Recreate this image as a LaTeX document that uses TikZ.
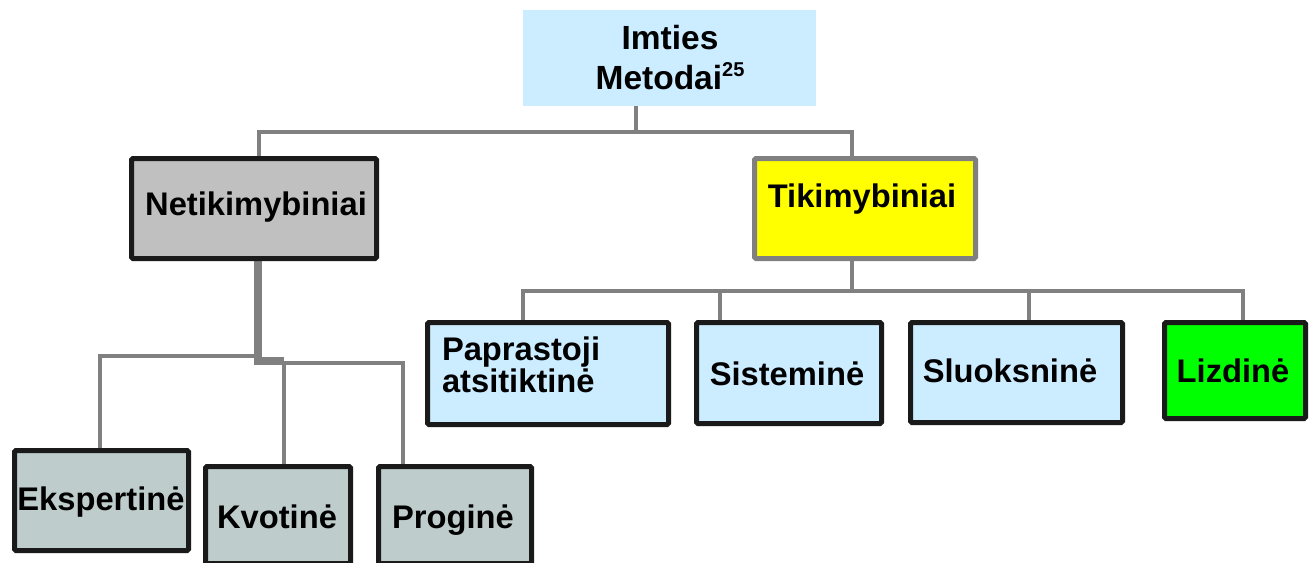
\documentclass[tikz,border=0pt]{standalone}
\usepackage{fontspec}
\setmainfont{Liberation Sans}
\usetikzlibrary{backgrounds}
\definecolor{lblue}{HTML}{CCECFF}
\definecolor{lgray}{HTML}{808080}
\definecolor{bblack}{HTML}{1A1A1A}
\definecolor{ngray}{HTML}{C0C0C0}
\definecolor{cgray}{HTML}{BFCCCC}
\definecolor{lgreen}{HTML}{00FF00}
\definecolor{lyellow}{HTML}{FFFF00}
\tikzset{
  box/.style={draw=bblack, line width=5pt, rounded corners=1.5pt, inner sep=0pt, outer sep=0pt},
  conn/.style={draw=lgray, line width=4.5pt},
  thickconn/.style={draw=lgray, line width=8.5pt},
  lbl/.style={inner sep=0pt, outer sep=0pt, font=\bfseries\fontsize{32.7}{33}\selectfont},
  toplbl/.style={inner sep=0pt, outer sep=0pt, font=\bfseries\fontsize{33.5}{34}\selectfont},
}
\begin{document}
\begin{tikzpicture}[x=1pt,y=-1pt]
\useasboundingbox (0,0) rectangle (1314,562);
% boxes
\node[fill=lblue, minimum width=293pt, minimum height=96pt, inner sep=0pt, outer sep=0pt] (top) at (669.5,58) {};
\node[box, fill=ngray, minimum width=245pt, minimum height=100pt] (netik) at (254,208.5) {};
\node[box, draw=lgray, fill=lyellow, minimum width=221pt, minimum height=100pt] (tikim) at (865,208.5) {};
\node[box, fill=lblue, minimum width=241pt, minimum height=102pt] (pap) at (548,373.5) {};
\node[box, fill=lblue, minimum width=185pt, minimum height=101pt] (sis) at (789,373) {};
\node[box, fill=lblue, minimum width=212pt, minimum height=100pt] (slu) at (1016.5,372.5) {};
\node[box, fill=lgreen, minimum width=141pt, minimum height=96pt] (liz) at (1235,370.5) {};
\node[box, fill=cgray, minimum width=174pt, minimum height=100pt] (eks) at (101.5,500.5) {};
\node[box, fill=cgray, minimum width=145pt, minimum height=97pt] (kvo) at (278,515) {};
\node[box, fill=cgray, minimum width=153pt, minimum height=97pt] (pro) at (455,515) {};
% texts
\node[toplbl, anchor=base] (tImt) at (670,49) {Imties};
\node[toplbl, anchor=base] (tMet) at (670,89) {Metodai\raisebox{13pt}{\fontsize{20}{20}\selectfont 25}};
\node[lbl, anchor=base] (tNet) at (256,215) {Netikimybiniai};
\node[lbl, anchor=base] (tTik) at (862,207) {Tikimybiniai};
\node[lbl, anchor=base west] (tPap1) at (442,360) {Paprastoji};
\node[lbl, anchor=base west] (tPap2) at (442,392) {atsitiktinė};
\node[lbl, anchor=base] (tSis) at (787,385) {Sisteminė};
\node[lbl, anchor=base] (tSlu) at (1010,382) {Sluoksninė};
\node[lbl, anchor=base] (tLiz) at (1233,382) {Lizdinė};
\node[lbl, anchor=base] (tEks) at (101,510) {Ekspertinė};
\node[lbl, anchor=base] (tKvo) at (277,528) {Kvotinė};
\node[lbl, anchor=base] (tPro) at (453,528) {Proginė};
% connectors
\coordinate (b1T) at (636,132);
\coordinate (b1L) at (259,132);
\coordinate (b1R) at (852,132);
\coordinate (b2T) at (852,291);
\coordinate (b2a) at (523,291);
\coordinate (b2b) at (720,291);
\coordinate (b2c) at (1029,291);
\coordinate (b2d) at (1243,291);
\coordinate (n1) at (258,361);
\coordinate (n2) at (284,361);
\coordinate (e1) at (258,356);
\coordinate (e2) at (100,356);
\coordinate (p1) at (284,363);
\coordinate (p2) at (403,363);
\begin{scope}[on background layer]
\draw[conn] (top.south -| b1T) -- (b1T);
\draw[conn] (netik.north -| b1L) -- (b1L) -- (b1R) -- (tikim.north -| b1R);
\draw[conn] (tikim.south -| b2T) -- (b2T);
\draw[conn] (pap.north -| b2a) -- (b2a) -- (b2d) -- (liz.north -| b2d);
\draw[conn] (sis.north -| b2b) -- (b2b);
\draw[conn] (slu.north -| b2c) -- (b2c);
\draw[thickconn] (netik.south -| n1) -- (n1) -- (n2);
\draw[conn] (e1) -- (e2) -- (eks.north -| e2);
\draw[conn] (n2) -- (kvo.north -| n2);
\draw[conn] (p1) -- (p2) -- (pro.north -| p2);
\end{scope}
\end{tikzpicture}
\end{document}
